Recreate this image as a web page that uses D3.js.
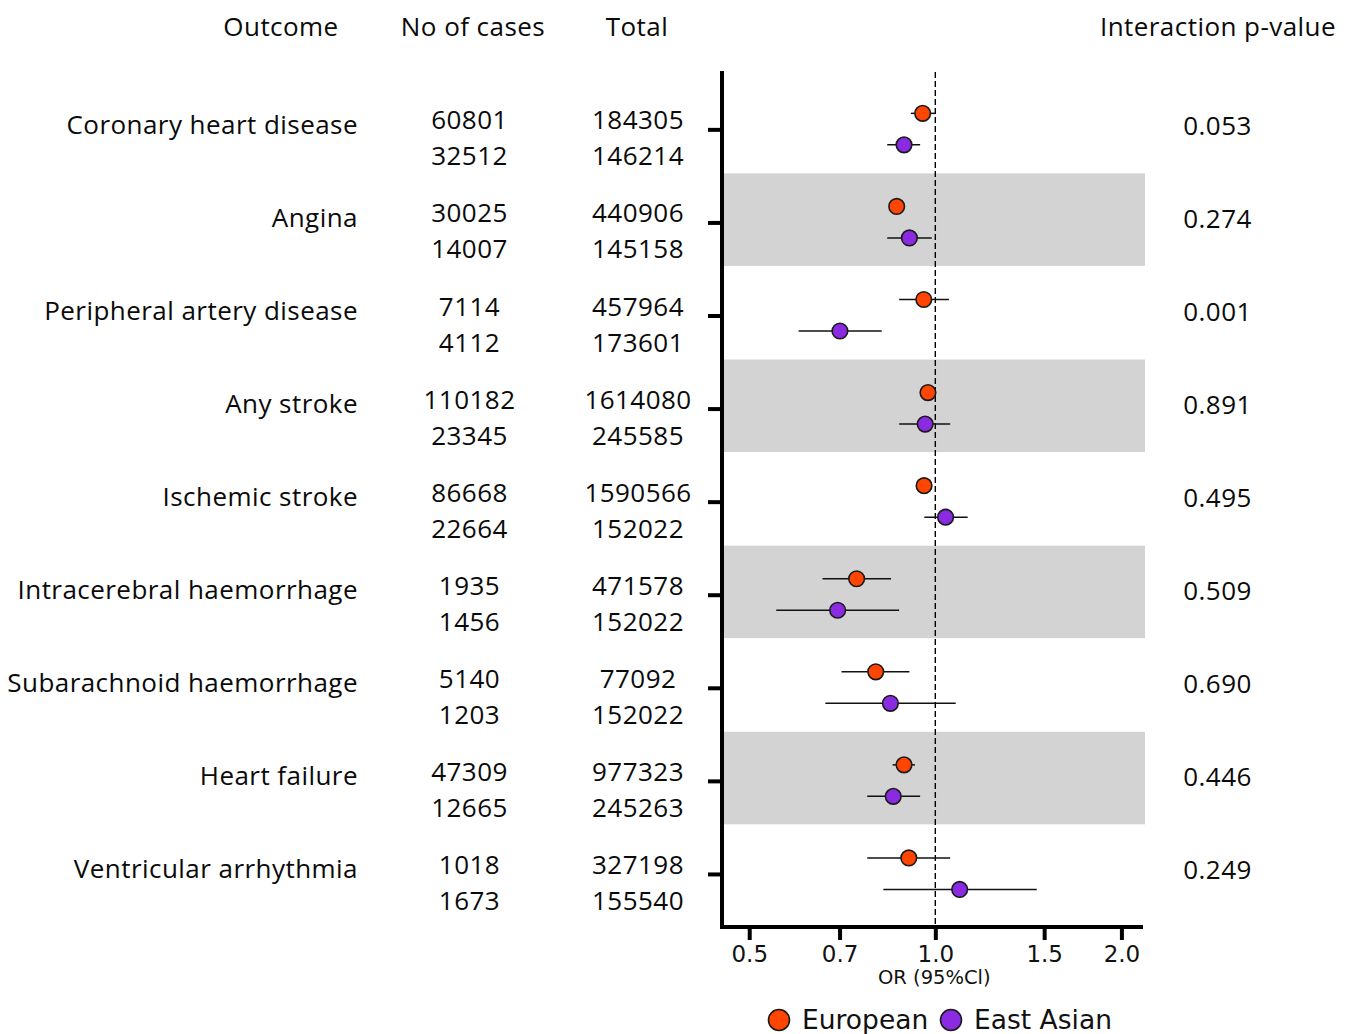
<!DOCTYPE html>
<html>
<head>
<meta charset="utf-8">
<script src="https://cdn.jsdelivr.net/npm/d3@7"></script>
<style>
  body { margin: 0; background: #fff; }
  .tbl { font-family: "Open Sans", sans-serif; font-size: 26px; letter-spacing: 0.45px; fill: #0a0a0a; }
  .ax { font-family: "DejaVu Sans", sans-serif; fill: #111; }
</style>
</head>
<body>
<svg id="chart" width="1347" height="1034"></svg>
<script>
// forest plot: OR by outcome, European vs East Asian

var outcomes = ["Coronary heart disease", "Angina", "Peripheral artery disease", "Any stroke",
  "Ischemic stroke", "Intracerebral haemorrhage", "Subarachnoid haemorrhage", "Heart failure",
  "Ventricular arrhythmia"];
var casesEur = ["60801", "30025", "7114", "110182", "86668", "1935", "5140", "47309", "1018"];
var casesEas = ["32512", "14007", "4112", "23345", "22664", "1456", "1203", "12665", "1673"];
var totalEur = ["184305", "440906", "457964", "1614080", "1590566", "471578", "77092", "977323", "327198"];
var totalEas = ["146214", "145158", "173601", "245585", "152022", "152022", "152022", "245263", "155540"];
var pInteraction = ["0.053", "0.274", "0.001", "0.891", "0.495", "0.509", "0.690", "0.446", "0.249"];

var orEur = [0.954, 0.866, 0.958, 0.973, 0.959, 0.746, 0.801, 0.890, 0.906];
var loEur = [0.913, 0.855, 0.874, 0.963, 0.948, 0.657, 0.705, 0.853, 0.776];
var hiEur = [1.000, 0.878, 1.052, 0.984, 0.970, 0.848, 0.908, 0.927, 1.057];
var orEas = [0.890, 0.908, 0.701, 0.963, 1.039, 0.695, 0.846, 0.855, 1.095];
var loEas = [0.836, 0.836, 0.601, 0.874, 0.960, 0.553, 0.664, 0.776, 0.824];
var hiEas = [0.945, 0.987, 0.819, 1.057, 1.128, 0.874, 1.079, 0.945, 1.459];

var xTicks = [0.5, 0.7, 1.0, 1.5, 2.0];
var groups = ["European", "East Asian"];
var colors = ["#ff4500", "#8a2be2"];

var svg = d3.select("#chart");

var x = d3.scaleLog().domain([0.4518, 2.1675]).range([722, 1143]);
var y = d3.scaleLinear().domain([-0.627, 8.57]).range([71, 927]);
var idx = d3.range(outcomes.length);

// shaded bands on every other row
svg.selectAll(".band")
  .data(idx.filter(function (i) { return i % 2 === 1; }))
  .enter().append("rect")
  .attr("class", "band")
  .attr("x", x.range()[0] + 2)
  .attr("width", x.range()[1] - x.range()[0])
  .attr("y", function (i) { return y(i - 0.527); })
  .attr("height", function (i) { return y(i + 0.467) - y(i - 0.527); })
  .attr("fill", "#d3d3d3");

// reference line at OR = 1
svg.append("line")
  .attr("x1", x(1)).attr("x2", x(1))
  .attr("y1", 72).attr("y2", y.range()[1])
  .attr("stroke", "#000")
  .attr("stroke-width", 1.4)
  .attr("stroke-dasharray", "6,3");

// axes
var xAxis = svg.append("g")
  .attr("transform", "translate(0," + y.range()[1] + ")")
  .call(d3.axisBottom(x).tickValues(xTicks).tickFormat(d3.format(".1f")).tickSizeOuter(0).tickSize(13).tickPadding(6));
xAxis.select(".domain").attr("stroke-width", 4).attr("d", "M720,0H1143");
xAxis.selectAll(".tick line").attr("stroke-width", 4);
xAxis.selectAll(".tick text").attr("class", "ax").style("font-size", "23px").attr("font-family", null);

var yAxis = svg.append("g")
  .attr("transform", "translate(" + x.range()[0] + ",0)")
  .call(d3.axisLeft(y).tickValues(idx).tickFormat("").tickSizeOuter(0).tickSize(14));
yAxis.select(".domain").attr("stroke-width", 4).attr("d", "M0,71V929");
yAxis.selectAll(".tick line").attr("stroke-width", 4);

svg.append("text")
  .attr("class", "ax")
  .attr("x", x(1) - 1).attr("y", 984)
  .attr("text-anchor", "middle")
  .style("font-size", "19.5px")
  .text("OR (95%Cl)");

// points with CIs
var series = [
  {or: orEur, lo: loEur, hi: hiEur, dy: -16},
  {or: orEas, lo: loEas, hi: hiEas, dy: 15.5}
];
series.forEach(function (s, k) {
  var g = svg.append("g");
  g.selectAll("line")
    .data(idx).enter().append("line")
    .attr("x1", function (i) { return x(s.lo[i]); })
    .attr("x2", function (i) { return x(s.hi[i]); })
    .attr("y1", function (i) { return y(i) + s.dy; })
    .attr("y2", function (i) { return y(i) + s.dy; })
    .attr("stroke", "#111")
    .attr("stroke-width", 1.5);
  g.selectAll("circle")
    .data(idx).enter().append("circle")
    .attr("cx", function (i) { return x(s.or[i]); })
    .attr("cy", function (i) { return y(i) + s.dy; })
    .attr("r", 7.8)
    .attr("fill", colors[k])
    .attr("stroke", "#1a1a1a")
    .attr("stroke-width", 1.6);
});

// table text
function col(data, xp, anchor, dy) {
  svg.append("g").selectAll("text")
    .data(data).enter().append("text")
    .attr("class", "tbl")
    .attr("x", xp)
    .attr("y", function (d, i) { return y(i) + dy; })
    .attr("text-anchor", anchor)
    .text(function (d) { return d; });
}
col(outcomes, 358, "end", 4.5);
col(casesEur, 469.5, "middle", 0);
col(casesEas, 469.5, "middle", 36);
col(totalEur, 638, "middle", 0);
col(totalEas, 638, "middle", 36);
col(pInteraction, 1217.5, "middle", 5.5);

var headers = [["Outcome", 281], ["No of cases", 473], ["Total", 637], ["Interaction p-value", 1218]];
svg.selectAll(".hdr")
  .data(headers).enter().append("text")
  .attr("class", "tbl hdr")
  .attr("x", function (d) { return d[1]; })
  .attr("y", 36)
  .attr("text-anchor", "middle")
  .text(function (d) { return d[0]; });

// legend
var leg = svg.append("g");
var legX = [779, 951];
groups.forEach(function (name, k) {
  leg.append("circle")
    .attr("cx", legX[k]).attr("cy", 1020).attr("r", 10.5)
    .attr("fill", colors[k]).attr("stroke", "#1a1a1a").attr("stroke-width", 1.6);
  leg.append("text")
    .attr("class", "ax")
    .attr("x", legX[k] + 23).attr("y", 1029)
    .style("font-size", "26.5px")
    .text(name);
});
</script>
</body>
</html>
